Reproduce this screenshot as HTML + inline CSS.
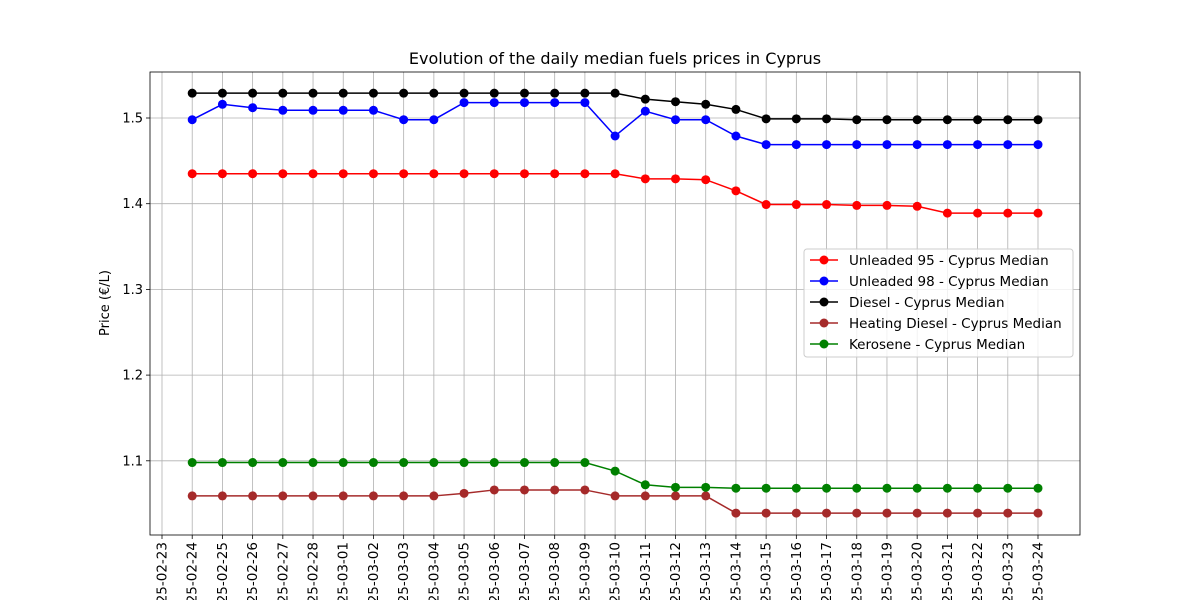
<!DOCTYPE html>
<html><head><meta charset="utf-8"><style>
body{margin:0;background:#fff;}
svg{display:block;font-family:"DejaVu Sans","Liberation Sans",sans-serif;}
</style></head><body>
<svg id="chart" width="1200" height="600" viewBox="0 0 1200 600"></svg>
<script>
const dates=["2025-02-23","2025-02-24","2025-02-25","2025-02-26","2025-02-27","2025-02-28","2025-03-01","2025-03-02","2025-03-03","2025-03-04","2025-03-05","2025-03-06","2025-03-07","2025-03-08","2025-03-09","2025-03-10","2025-03-11","2025-03-12","2025-03-13","2025-03-14","2025-03-15","2025-03-16","2025-03-17","2025-03-18","2025-03-19","2025-03-20","2025-03-21","2025-03-22","2025-03-23","2025-03-24"];
const yTicks=[1.1,1.2,1.3,1.4,1.5];
const u95=[1.435,1.435,1.435,1.435,1.435,1.435,1.435,1.435,1.435,1.435,1.435,1.435,1.435,1.435,1.435,1.429,1.429,1.428,1.415,1.399,1.399,1.399,1.398,1.398,1.397,1.389,1.389,1.389,1.389];
const u98=[1.498,1.516,1.512,1.509,1.509,1.509,1.509,1.498,1.498,1.518,1.518,1.518,1.518,1.518,1.479,1.508,1.498,1.498,1.479,1.469,1.469,1.469,1.469,1.469,1.469,1.469,1.469,1.469,1.469];
const diesel=[1.529,1.529,1.529,1.529,1.529,1.529,1.529,1.529,1.529,1.529,1.529,1.529,1.529,1.529,1.529,1.522,1.519,1.516,1.510,1.499,1.499,1.499,1.498,1.498,1.498,1.498,1.498,1.498,1.498];
const heating=[1.059,1.059,1.059,1.059,1.059,1.059,1.059,1.059,1.059,1.062,1.066,1.066,1.066,1.066,1.059,1.059,1.059,1.059,1.039,1.039,1.039,1.039,1.039,1.039,1.039,1.039,1.039,1.039,1.039];
const kerosene=[1.098,1.098,1.098,1.098,1.098,1.098,1.098,1.098,1.098,1.098,1.098,1.098,1.098,1.098,1.088,1.072,1.069,1.069,1.068,1.068,1.068,1.068,1.068,1.068,1.068,1.068,1.068,1.068,1.068];
const seriesNames=["Unleaded 95 - Cyprus Median","Unleaded 98 - Cyprus Median","Diesel - Cyprus Median","Heating Diesel - Cyprus Median","Kerosene - Cyprus Median"];
const seriesData=[u95,u98,diesel,heating,kerosene];
const colors=["#ff0000","#0000ff","#000000","#a52a2a","#008000"];

const NS="http://www.w3.org/2000/svg";
const svg=document.getElementById('chart');
const L=150,R=1080,T=72,B=535;
const x=i=>162+i*(876/29);
const y=v=>118+(1.5-v)*857;
function mk(tag,attrs,parent){const e=document.createElementNS(NS,tag);for(const k in attrs)e.setAttribute(k,attrs[k]);(parent||svg).appendChild(e);return e;}

const grid=mk('g',{});


dates.forEach((d,i)=>{
  const l=mk('line',{x1:x(i),x2:x(i),y1:T,y2:B,stroke:'#b0b0b0','stroke-width':0.8},grid);
  
  
  const t=mk('line',{x1:x(i),x2:x(i),y1:B,y2:B+4,stroke:'#000','stroke-width':0.8});
  
  
  const tx=mk('text',{x:0,y:0,transform:`translate(${x(i)+4.5},${B+7}) rotate(-90)`,'text-anchor':'end','font-size':13.5});
  tx.textContent=d;
  
  
});
yTicks.forEach(v=>{
  const l=mk('line',{x1:L,x2:R,y1:y(v),y2:y(v),stroke:'#b0b0b0','stroke-width':0.8},grid);
  
  
  const t=mk('line',{x1:L-4,x2:L,y1:y(v),y2:y(v),stroke:'#000','stroke-width':0.8});
  
  
  const tx=mk('text',{x:L-7,y:y(v)+4.5,'text-anchor':'end','font-size':13});
  tx.textContent=v.toFixed(1);
  
  
});
seriesData.forEach((s,k)=>{
  const g=mk('g',{});
  
  
  const pts=s.map((v,i)=>x(i+1)+','+y(v)).join(' ');
  const pl=mk('polyline',{points:pts,fill:'none',stroke:colors[k],'stroke-width':1.5},g);
  
  
  s.forEach((v,i)=>{
    const c=mk('circle',{cx:x(i+1),cy:y(v),r:4.5,fill:colors[k]},g);
    
    
  });
});
const frame=mk('rect',{x:L,y:T,width:R-L,height:B-T,fill:'none',stroke:'#000','stroke-width':0.8});


const title=mk('text',{x:615,y:64,'text-anchor':'middle','font-size':16});
title.textContent='Evolution of the daily median fuels prices in Cyprus';


const yt=mk('text',{x:0,y:0,transform:'translate(109,303) rotate(-90)','text-anchor':'middle','font-size':13});
yt.textContent='Price (€/L)';


const lg=mk('g',{});


mk('rect',{x:804,y:249,width:269,height:108,rx:3,fill:'#fff','fill-opacity':0.8,stroke:'#ccc'},lg);
seriesNames.forEach((n,k)=>{
  const yy=260+k*21;
  const e=mk('g',{},lg);
  
  
  mk('line',{x1:810,x2:838,y1:yy,y2:yy,stroke:colors[k],'stroke-width':1.5},e);
  mk('circle',{cx:824,cy:yy,r:4.5,fill:colors[k]},e);
  const t=mk('text',{x:849,y:yy+5,'font-size':13.5},e);
  t.textContent=n;
});
</script>
</body></html>
